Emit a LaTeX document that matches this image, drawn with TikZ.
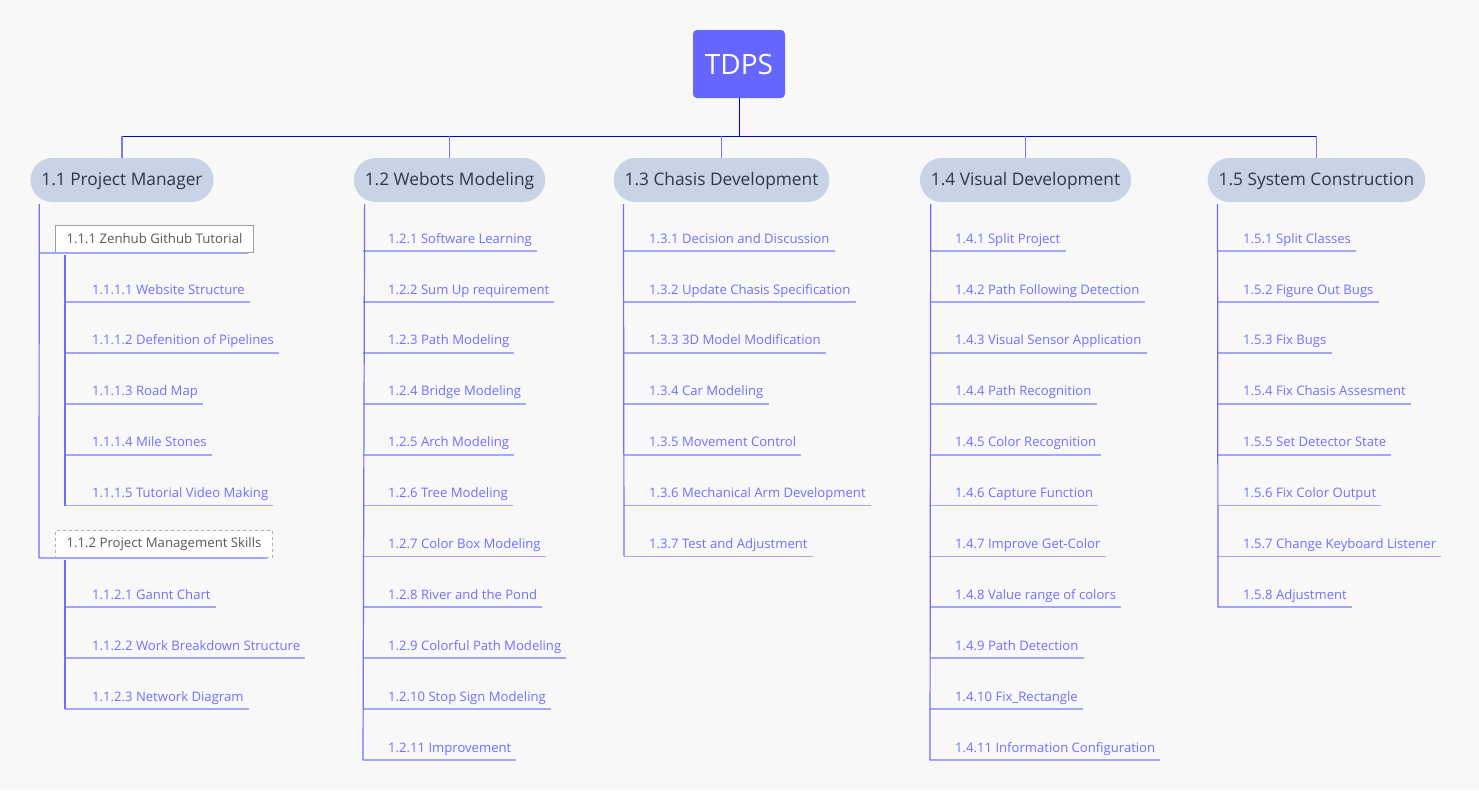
\documentclass[tikz,border=0pt]{standalone}
\usepackage{fontspec}
\setmainfont{Open Sans}
\definecolor{bg}{HTML}{F8F8F8}
\definecolor{rootfill}{HTML}{6666FF}
\definecolor{trunk}{HTML}{0000CC}
\definecolor{stubc}{HTML}{7A7AE6}
\definecolor{topfill}{HTML}{C8D3E6}
\definecolor{toptext}{HTML}{2D3748}
\definecolor{vlinec}{HTML}{6E6EF5}
\definecolor{ulinec}{HTML}{A5A5FA}
\definecolor{itemtext}{HTML}{7070FF}
\definecolor{boxborder}{HTML}{9E9E9E}
\definecolor{boxtext}{HTML}{595959}
\tikzset{
  root/.style={fill=rootfill, rounded corners=4pt, minimum width=92pt, minimum height=68pt,
    text=white, font=\fontsize{28}{30}\selectfont, inner sep=0pt},
  topnode/.style={fill=topfill, rounded corners=22pt, minimum height=44pt, inner xsep=11pt,
    text height=12.5pt, text depth=2.5pt, text=toptext, font=\fontsize{17.3}{20}\selectfont},
  item/.style={anchor=south west, inner xsep=0pt, inner ysep=4.2pt, text height=10pt,
    text depth=3.5pt, text=itemtext, font=\fontsize{13.1}{15}\selectfont},
  subbox/.style={anchor=south west, fill=white, draw=boxborder, line width=1pt, inner xsep=11pt,
    minimum height=27pt, text=boxtext, font=\fontsize{13.2}{15}\selectfont},
  trunkline/.style={draw=trunk, line width=1pt},
  stubline/.style={draw=stubc, line width=1.6pt},
  vline/.style={draw=vlinec, line width=1.2pt},
  uline/.style={draw=ulinec, line width=1.8pt},
}
\begin{document}
\begin{tikzpicture}[x=1pt,y=-1pt]
\fill[bg] (0,0) rectangle (1479,790);
\useasboundingbox (0,0) rectangle (1479,790);

% root and top level
\node[root] (root) at (739,64) {TDPS};
\node[topnode] (n11) at (122,180) {1.1 Project Manager};
\node[topnode] (n12) at (449.5,180) {1.2 Webots Modeling};
\node[topnode] (n13) at (721.5,180) {1.3 Chasis Development};
\node[topnode] (n14) at (1025.5,180) {1.4 Visual Development};
\node[topnode] (n15) at (1316.5,180) {1.5 System Construction};

\coordinate (bus) at (739,136);
\draw[trunkline] (root.south) -- (bus);
\draw[trunkline] (n11.north |- bus) -- (n15.north |- bus);
\foreach \n in {n11,n12,n13,n14,n15}{
  \draw[stubline] (\n.north |- bus) -- (\n.north);
}

% column 1.2
\foreach \t [count=\i] in {Software Learning, Sum Up requirement, Path Modeling, Bridge Modeling,
  Arch Modeling, Tree Modeling, Color Box Modeling, River and the Pond, Colorful Path Modeling,
  Stop Sign Modeling, Improvement}{
  \node[item] (c2-\i) at (388,{251+50.9*(\i-1)}) {1.2.\i\ \t};
  \draw[uline] ([xshift=-25pt]c2-\i.south west) -- ([xshift=5pt]c2-\i.south east);
}
\draw[vline] ([xshift=11pt,yshift=-2pt]n12.south west) -- ([xshift=-25pt]c2-11.south west);

% column 1.3
\foreach \t [count=\i] in {Decision and Discussion, Update Chasis Specification, 3D Model Modification,
  Car Modeling, Movement Control, Mechanical Arm Development, Test and Adjustment}{
  \node[item] (c3-\i) at (649,{251+50.9*(\i-1)}) {1.3.\i\ \t};
  \draw[uline] ([xshift=-25pt]c3-\i.south west) -- ([xshift=5pt]c3-\i.south east);
}
\draw[vline] ([xshift=10pt,yshift=-2pt]n13.south west) -- ([xshift=-25pt]c3-7.south west);

% column 1.4
\foreach \t [count=\i] in {Split Project, Path Following Detection, Visual Sensor Application,
  Path Recognition, Color Recognition, Capture Function, Improve Get-Color, Value range of colors,
  Path Detection, Fix\_Rectangle, Information Configuration}{
  \node[item] (c4-\i) at (955,{251+50.9*(\i-1)}) {1.4.\i\ \t};
  \draw[uline] ([xshift=-25pt]c4-\i.south west) -- ([xshift=5pt]c4-\i.south east);
}
\draw[vline] ([xshift=11pt,yshift=-2pt]n14.south west) -- ([xshift=-25pt]c4-11.south west);

% column 1.5
\foreach \t [count=\i] in {Split Classes, Figure Out Bugs, Fix Bugs, Fix Chasis Assesment,
  Set Detector State, Fix Color Output, Change Keyboard Listener, Adjustment}{
  \node[item] (c5-\i) at (1243,{251+50.9*(\i-1)}) {1.5.\i\ \t};
  \draw[uline] ([xshift=-25pt]c5-\i.south west) -- ([xshift=5pt]c5-\i.south east);
}
\draw[vline] ([xshift=10pt,yshift=-2pt]n15.south west) -- ([xshift=-25pt]c5-8.south west);

% column 1.1
\node[subbox] (b111) at (55,253) {1.1.1 Zenhub Github Tutorial};
\node[subbox, dashed, draw=boxborder!80] (b112) at (55,558) {1.1.2 Project Management Skills};
\draw[uline] ([xshift=-16pt]b111.south west) -- ([xshift=-6pt]b111.south east);
\draw[uline] ([xshift=-16pt]b112.south west) -- ([xshift=-6pt]b112.south east);
\draw[vline] ([xshift=9pt,yshift=-2pt]n11.south west) -- ([xshift=-16pt]b112.south west);

\foreach \t [count=\i] in {Website Structure, Defenition of Pipelines, Road Map, Mile Stones,
  Tutorial Video Making}{
  \node[item] (s1-\i) at (92,{251+50.9*\i}) {1.1.1.\i\ \t};
  \draw[uline] ([xshift=-27pt]s1-\i.south west) -- ([xshift=5pt]s1-\i.south east);
}
\draw[vline] ([xshift=10pt,yshift=-2pt]b111.south west) -- ([xshift=-27pt]s1-5.south west);

\foreach \t [count=\i] in {Gannt Chart, Work Breakdown Structure, Network Diagram}{
  \node[item] (s2-\i) at (92,{251+50.9*(\i+6)}) {1.1.2.\i\ \t};
  \draw[uline] ([xshift=-27pt]s2-\i.south west) -- ([xshift=5pt]s2-\i.south east);
}
\draw[vline] ([xshift=10pt,yshift=-2pt]b112.south west) -- ([xshift=-27pt]s2-3.south west);
\end{tikzpicture}
\end{document}
